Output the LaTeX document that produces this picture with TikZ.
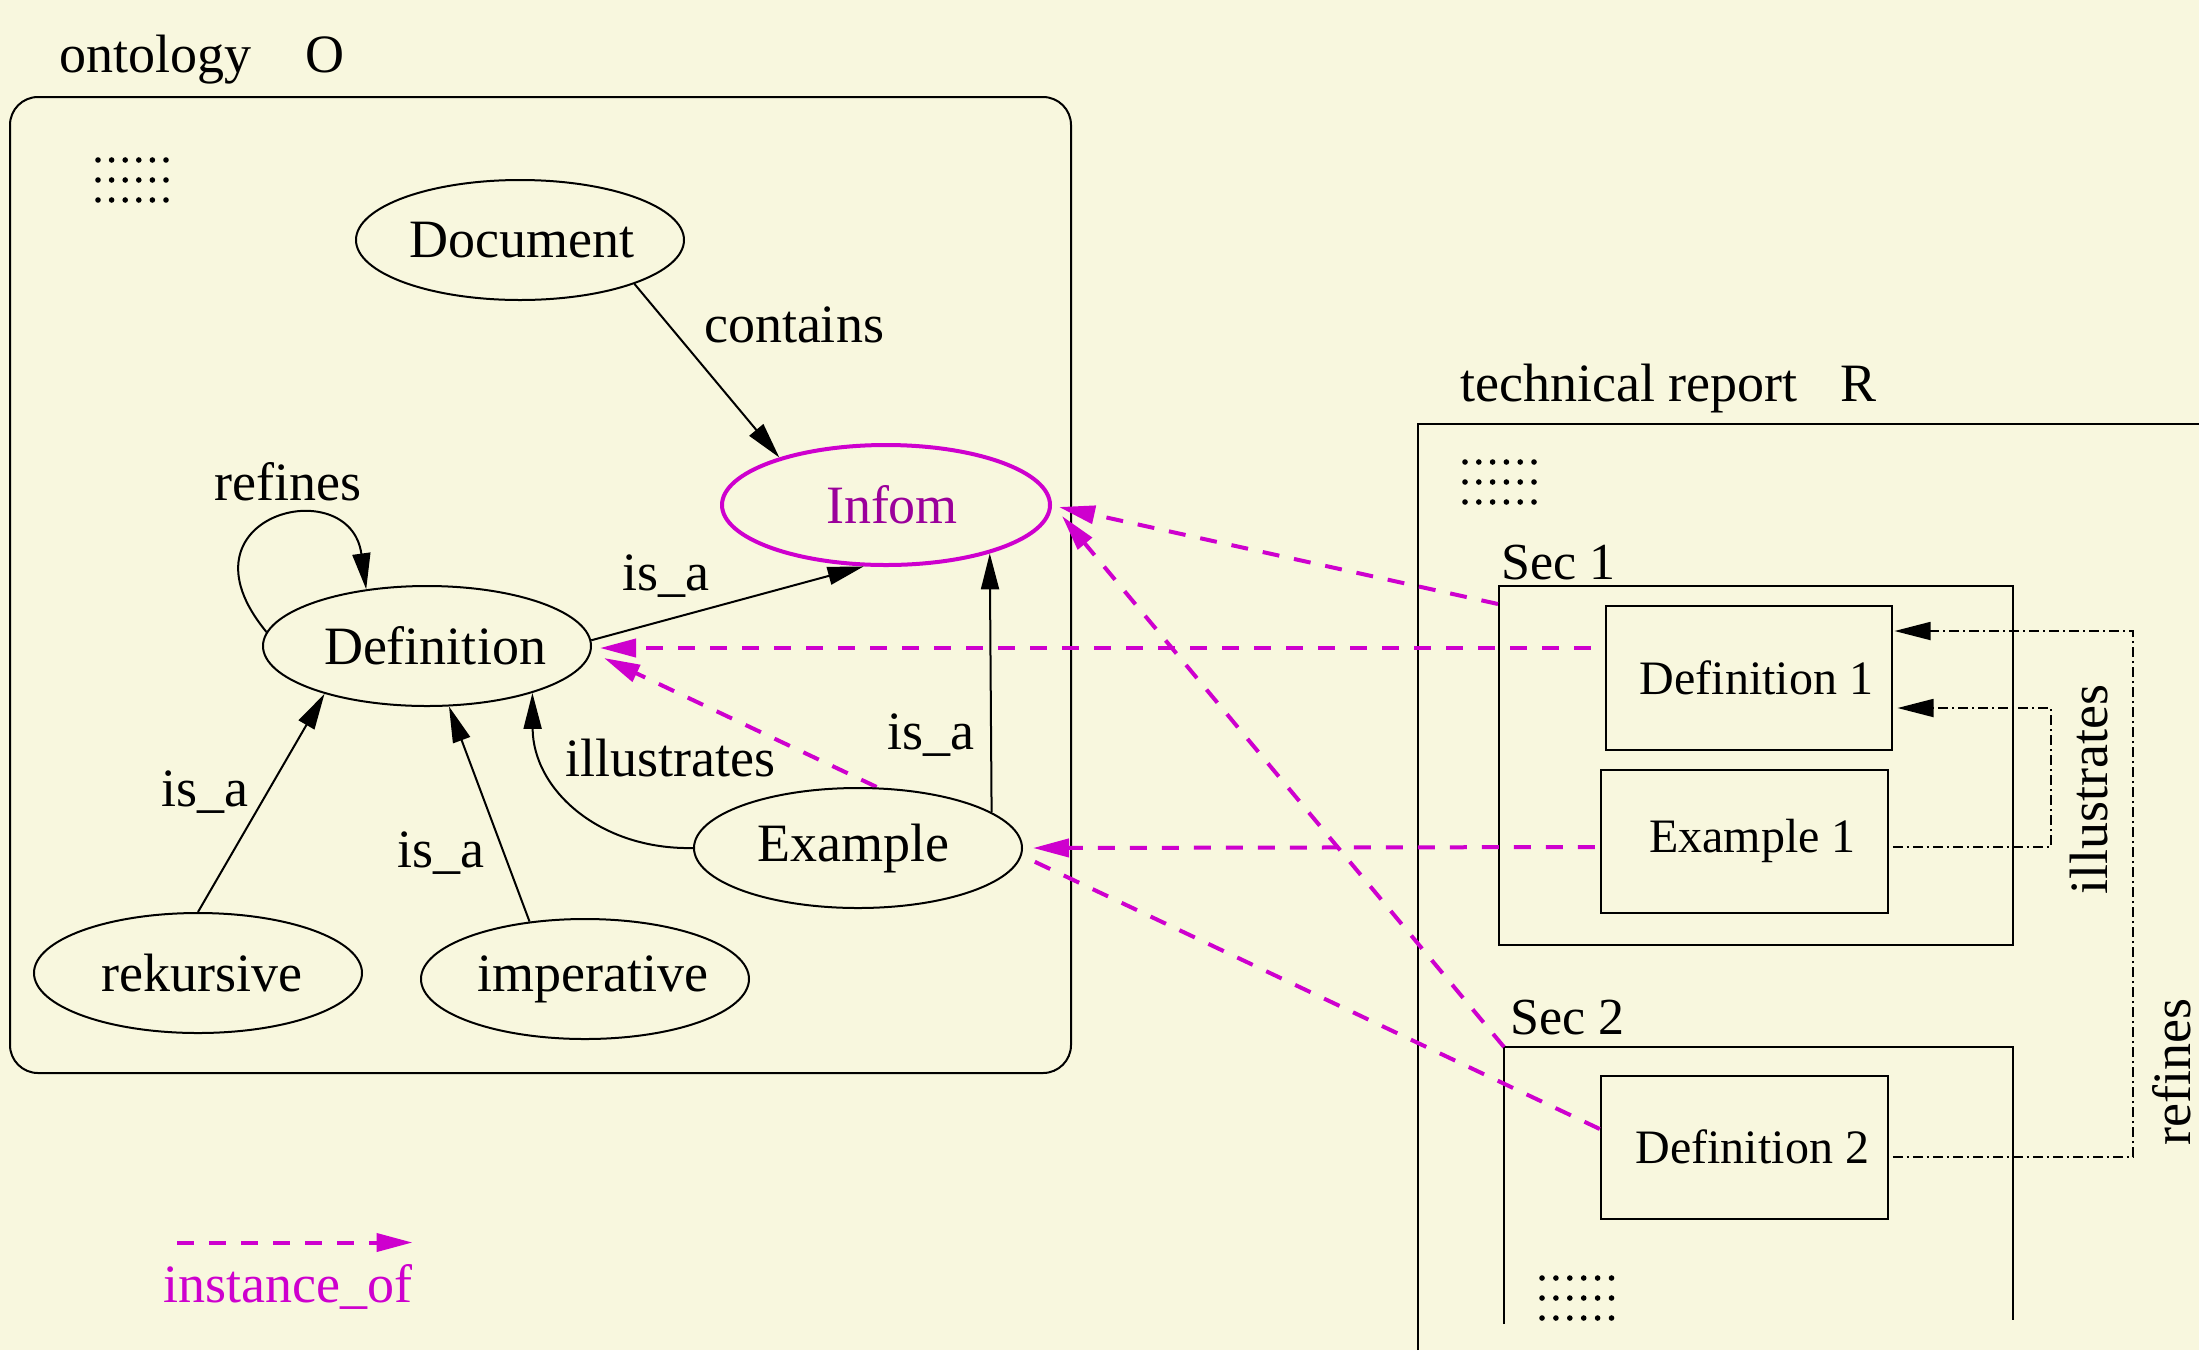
\documentclass[tikz,border=0pt]{standalone}
\usepackage{fontspec}
\setmainfont{Liberation Serif}
\usetikzlibrary{arrows.meta,shapes.geometric}

\definecolor{paper}{RGB}{248,247,222}
\definecolor{inst}{RGB}{206,0,206}
\definecolor{infomtext}{RGB}{155,0,155}

% text nudged sideways without changing the size of its node
\newcommand{\nudge}[2]{\kern#1\relax#2\kern-#1\relax\null}

\tikzset{
  big/.style={font=\fontsize{54}{60}\selectfont},
  seclbl/.style={font=\fontsize{52}{58}\selectfont, inner sep=0pt},
  boxfont/.style={font=\fontsize{48}{54}\selectfont},
  lbl/.style={big, inner sep=0pt},
  concept/.style={ellipse, draw, line width=2pt, minimum width=328pt,
    minimum height=120pt, inner sep=0pt, big},
  part/.style={draw, line width=2pt, inner sep=0pt, boxfont,
    minimum width=287pt, minimum height=143pt},
  frameline/.style={line width=2pt},
  relarrow/.style={line width=2pt, -{Triangle[length=36pt,width=18pt]}},
  instof/.style={draw=inst, line width=4pt, dash pattern=on 17pt off 15pt,
    -{Triangle[length=36pt,width=18pt]}, color=inst},
  doclink/.style={line width=1.8pt, dash pattern=on 10pt off 4pt on 2pt off 4pt,
    -{Triangle[length=36pt,width=18pt]}},
  dotgrid/.style={fill=black},
}

\begin{document}
\begin{tikzpicture}[x=1pt,y=-1pt]
  % paper
  \fill[paper] (0,0) rectangle (2199,1350);
  \useasboundingbox (0,0) rectangle (2199,1350);

  % ---------------- ontology O ----------------
  \node[lbl, anchor=base west] (otitle) at (59.6,72) {ontology\quad O};
  \node[draw, line width=2pt, rounded corners=28pt, minimum width=1061pt,
        minimum height=976pt, inner sep=0pt] (onto) at (540.5,585) {};
  \foreach \i in {0,...,5}
    \foreach \j in {0,1,2}
      \fill[dotgrid] (98+13.6*\i,160+20*\j) circle (2.8pt);

  \node[concept] (doc) at (520,240) {\nudge{2pt}{Document}};
  \node[concept, draw=inst, line width=4pt, text=infomtext] (infom) at (886,505) {\nudge{6pt}{Infom}};
  \node[concept] (def) at (427,646) {\nudge{8pt}{Definition}};
  \node[concept] (rek) at (198,973) {\nudge{4pt}{rekursive}};
  \node[concept] (imp) at (585,979) {\nudge{8pt}{imperative}};

  % ---------------- technical report R ----------------
  \node[lbl, anchor=base west] (rtitle) at (1460,401) {technical report\hspace{0.8em}R};
  \draw[frameline] (1418,1350) |- (2199,423.5);
  \foreach \i in {0,...,5}
    \foreach \j in {0,1,2}
      \fill[dotgrid] (1465+13.8*\i,462+20*\j) circle (2.8pt);

  \node[seclbl, anchor=base west] (s1lbl) at (1501,579) {Sec 1};
  \node[draw, line width=2pt, minimum width=514pt, minimum height=359pt,
        inner sep=0pt] (sec1) at (1756,765.5) {};
  \node[part, minimum width=286pt, minimum height=144pt] (def1) at (1748.5,678) {\nudge{8pt}{Definition 1}};
  \node[part] (ex1) at (1744.3,841) {\nudge{8pt}{Example 1}};

  \node[seclbl, anchor=base west] (s2lbl) at (1510,1034) {Sec 2};
  \coordinate (sec2c) at (1504,1047);
  \draw[frameline] (1504,1324) -- (sec2c) -- (2013,1047) -- (2013,1320);
  \node[part] (def2) at (1744.3,1147) {\nudge{8pt}{Definition 2}};
  \foreach \i in {0,...,5}
    \foreach \j in {0,1,2}
      \fill[dotgrid] (1542+13.9*\i,1278+20*\j) circle (2.8pt);

  % instance link that runs behind the Example node
  \draw[instof] ([yshift=18pt]def2.west) -- ([xshift=12pt,yshift=-12pt]def.east);

  \node[concept, fill=paper] (ex) at (858,848) {\nudge{-5pt}{Example}};

  % ---------------- relations inside the ontology ----------------
  \draw[relarrow] (doc.-21) -- (infom.156);
  \node[lbl, anchor=base] (lcont) at (794,342) {contains};

  \draw[relarrow] (def.175) .. controls (170,515) and (350,470) .. (def.137);
  \node[lbl, anchor=base] (lref) at (288,500) {refines};

  \draw[relarrow] (def.2) -- (infom.250);
  \node[lbl, anchor=base] (lisa1) at (666,590) {is\_a};

  \draw[relarrow] (ex.15) -- (infom.-25);
  \node[lbl, anchor=base] (lisa2) at (931,749) {is\_a};

  \draw[relarrow] (ex.west) .. controls (600,850) and (533,790) .. (def.-24);
  \node[lbl, anchor=base] (lill) at (670,776) {illustrates};

  \draw[relarrow] (rek.north) -- (def.205);
  \node[lbl, anchor=base] (lisa3) at (205,806) {is\_a};

  \draw[relarrow] (imp.134) -- (def.-70);
  \node[lbl, anchor=base] (lisa4) at (441,867) {is\_a};

  % ---------------- links inside the report ----------------
  \draw[doclink] ([yshift=-6pt,xshift=4pt]ex1.east) -- ++(158,0)
      |- ([yshift=-30pt,xshift=5pt]def1.east);
  \node[lbl, rotate=90] (lill2) at (2089,790) {illustrates};

  \draw[doclink] ([yshift=-10pt,xshift=4pt]def2.east) -- ++(240,0)
      |- ([yshift=47pt,xshift=2pt]def1.east);
  \node[lbl, rotate=90] (lref2) at (2172,1072) {refines};

  % ---------------- instance_of links ----------------
  \draw[instof] ([yshift=-19pt]sec1.north west) -- ([xshift=7pt,yshift=-2pt]infom.east);
  \draw[instof] ([xshift=-14pt,yshift=30pt]def1.west) -- ([xshift=8pt,yshift=-2pt]def.east);
  \draw[instof] ([xshift=-5pt,yshift=-6pt]ex1.west) -- ([xshift=10pt]ex.east);
  \draw[instof] (sec2c) -- ([xshift=10pt,yshift=-11pt]infom.east);

  % ---------------- legend ----------------
  \coordinate (legA) at (177,1242.5);
  \coordinate (legB) at (412.5,1242.5);
  \draw[instof] (legA) -- (legB);
  \node[lbl, anchor=base, text=inst] (leglbl) at (288,1302) {instance\_of};
\end{tikzpicture}
\end{document}
